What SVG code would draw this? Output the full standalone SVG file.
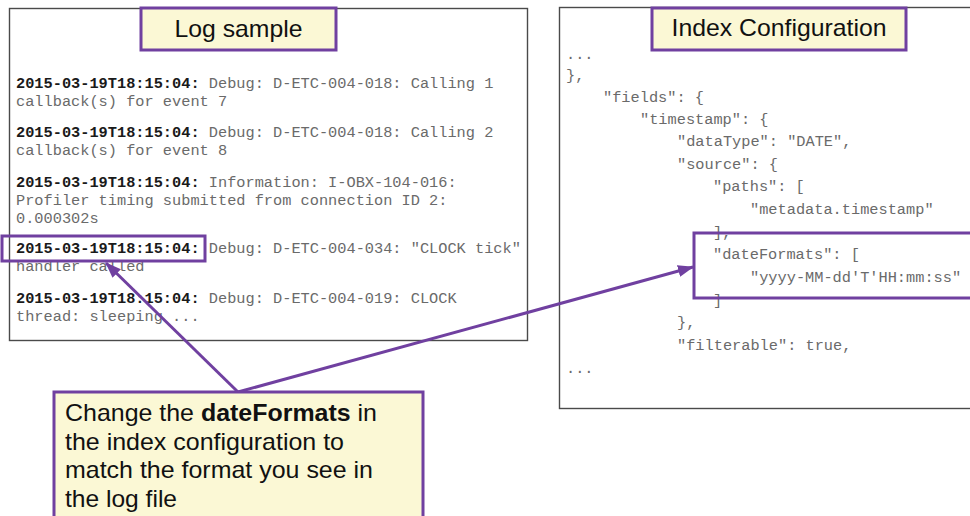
<svg xmlns="http://www.w3.org/2000/svg" width="970" height="516" viewBox="0 0 970 516">
<defs>
<style>
.panel{fill:#ffffff;stroke:#4a4a4a;stroke-width:1.4}
.title{fill:#fbf8d5;stroke:#7040a0;stroke-width:3}
.tt{font-family:"Liberation Sans",Arial,sans-serif;font-size:24px;fill:#111}
.mono{font-family:"Liberation Mono","Courier New",monospace;font-size:15.3px;fill:#6a6a6a}
.ts{font-weight:bold;fill:#1a1a1a}
.hl{fill:none;stroke:#7040a0;stroke-width:3}
.conn{fill:none;stroke:#7040a0;stroke-width:3}
.callout{fill:#fbf8d5;stroke:#7040a0;stroke-width:3}
</style>
<marker id="ah" markerUnits="userSpaceOnUse" markerWidth="16" markerHeight="12" refX="15" refY="6" orient="auto">
<path d="M0,0 L16,6 L0,12 z" fill="#7040a0"/>
</marker>
</defs>

<g id="log-sample">
<rect class="panel" x="9.5" y="8.5" width="518" height="332"/>
<rect class="title" x="141" y="8" width="195" height="42"/>
<text class="tt" x="238.5" y="37" text-anchor="middle" textLength="128" lengthAdjust="spacingAndGlyphs">Log sample</text>
<text class="mono" x="16" y="88"><tspan class="ts">2015-03-19T18:15:04:</tspan> Debug: D-ETC-004-018: Calling 1</text>
<text class="mono" x="16" y="106">callback(s) for event 7</text>
<text class="mono" x="16" y="137"><tspan class="ts">2015-03-19T18:15:04:</tspan> Debug: D-ETC-004-018: Calling 2</text>
<text class="mono" x="16" y="155">callback(s) for event 8</text>
<text class="mono" x="16" y="187"><tspan class="ts">2015-03-19T18:15:04:</tspan> Information: I-OBX-104-016:</text>
<text class="mono" x="16" y="205">Profiler timing submitted from connection ID 2:</text>
<text class="mono" x="16" y="223">0.000302s</text>
<text class="mono" x="16" y="253"><tspan class="ts">2015-03-19T18:15:04:</tspan> Debug: D-ETC-004-034: "CLOCK tick"</text>
<text class="mono" x="16" y="271">handler called</text>
<text class="mono" x="16" y="303"><tspan class="ts">2015-03-19T18:15:04:</tspan> Debug: D-ETC-004-019: CLOCK</text>
<text class="mono" x="16" y="321">thread: sleeping ...</text>
<rect id="ts-highlight" class="hl" x="2" y="236" width="203" height="25"/>
</g>

<g id="index-configuration">
<rect class="panel" x="559.5" y="7.5" width="420" height="401"/>
<rect class="title" x="652" y="8" width="254" height="42"/>
<text class="tt" x="779" y="36" text-anchor="middle" textLength="215" lengthAdjust="spacingAndGlyphs">Index Configuration</text>
<text class="mono" x="566" y="59">...</text>
<text class="mono" x="566" y="80">},</text>
<text class="mono" x="603" y="102">"fields": {</text>
<text class="mono" x="640" y="124">"timestamp": {</text>
<text class="mono" x="677" y="146">"dataType": "DATE",</text>
<text class="mono" x="677" y="169">"source": {</text>
<text class="mono" x="713" y="191">"paths": [</text>
<text class="mono" x="750" y="214">"metadata.timestamp"</text>
<text class="mono" x="713" y="237">],</text>
<text class="mono" x="713" y="259">"dateFormats": [</text>
<text class="mono" x="750" y="282">"yyyy-MM-dd'T'HH:mm:ss"</text>
<text class="mono" x="713" y="305">]</text>
<text class="mono" x="677" y="327">},</text>
<text class="mono" x="677" y="350">"filterable": true,</text>
<text class="mono" x="566" y="373">...</text>
<rect id="df-highlight" class="hl" x="694" y="233" width="290" height="65"/>
</g>

<g id="connectors">
<line class="conn" x1="238" y1="392" x2="106" y2="263" marker-end="url(#ah)"/>
<line class="conn" x1="238" y1="392" x2="693" y2="267" marker-end="url(#ah)"/>
</g>

<g id="callout">
<rect class="callout" x="54" y="392" width="369" height="140"/>
<text class="tt" x="65" y="421" textLength="312" lengthAdjust="spacingAndGlyphs">Change the <tspan font-weight="bold">dateFormats</tspan> in</text>
<text class="tt" x="65" y="450" textLength="279" lengthAdjust="spacingAndGlyphs">the index configuration to</text>
<text class="tt" x="65" y="478" textLength="308" lengthAdjust="spacingAndGlyphs">match the format you see in</text>
<text class="tt" x="65" y="507" textLength="112" lengthAdjust="spacingAndGlyphs">the log file</text>
</g>
</svg>
